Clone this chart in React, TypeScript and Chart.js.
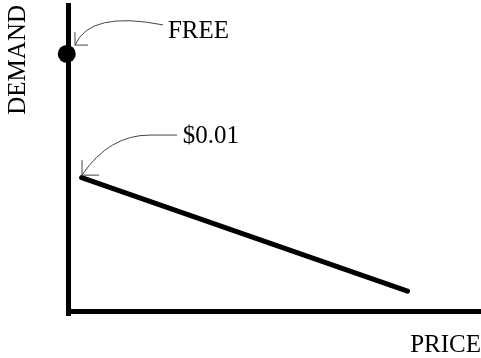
import React, { useEffect, useRef } from "react";
import { Chart, registerables } from "chart.js";

Chart.register(...registerables);

// ---- data (in abstract price / demand units, 0..100) ----
const xTitle = "PRICE";
const yTitle = "DEMAND";
const freePoint = [{ x: -0.3, y: 84 }];
const demandLine = [
  { x: 3.3, y: 43.6 },
  { x: 82.2, y: 6.5 },
];
const labelTexts = ["FREE", "$0.01"];
const labelAnchors = [
  { x: 24.2, y: 89.2 },
  { x: 27.8, y: 54.9 },
];
// arrow paths: start, bend, curve control, tip
const arrowPaths = [
  [
    { x: 23.0, y: 93.5 },
    { x: 23.0, y: 93.5 },
    { x: 5.33, y: 98.2 },
    { x: 1.69, y: 86.9 },
  ],
  [
    { x: 26.4, y: 57.5 },
    { x: 19.85, y: 57.5 },
    { x: 9.93, y: 57.5 },
    { x: 3.39, y: 44.4 },
  ],
];

// ---- styles ----
const FONT = '"Liberation Serif", "Times New Roman", serif';
const arrowHeads = [
  { up: 13, right: 13 },
  { up: 15, right: 17 },
];

const annotationPlugin = {
  id: "annotations",
  afterDatasetsDraw(chart: any) {
    const { ctx, scales } = chart;
    const xs = scales.x;
    const ys = scales.y;
    const px = (p: { x: number; y: number }) => [xs.getPixelForValue(p.x), ys.getPixelForValue(p.y)];
    ctx.save();
    ctx.strokeStyle = "#444";
    ctx.lineWidth = 1;
    arrowPaths.forEach((path, i) => {
      const [s, b, c, t] = path.map(px);
      ctx.beginPath();
      ctx.moveTo(s[0], s[1]);
      ctx.lineTo(b[0], b[1]);
      ctx.quadraticCurveTo(c[0], c[1], t[0], t[1]);
      ctx.stroke();
      const h = arrowHeads[i];
      ctx.beginPath();
      ctx.moveTo(t[0], t[1] - h.up);
      ctx.lineTo(t[0], t[1]);
      ctx.lineTo(t[0] + h.right, t[1]);
      ctx.stroke();
    });
    ctx.fillStyle = "#000";
    ctx.font = `25px ${FONT}`;
    ctx.textAlign = "left";
    ctx.textBaseline = "alphabetic";
    labelTexts.forEach((txt, i) => {
      const [x, y] = px(labelAnchors[i]);
      ctx.fillText(txt, x, y);
    });
    ctx.restore();
  },
};

export default function App() {
  const canvasRef = useRef<HTMLCanvasElement | null>(null);

  useEffect(() => {
    document.body.style.margin = "0";
    document.body.style.overflow = "hidden";
    const canvas = canvasRef.current;
    if (!canvas) return;
    const chart = new Chart(canvas, {
      type: "scatter",
      data: {
        datasets: [
          {
            type: "line",
            data: demandLine,
            borderColor: "#000",
            borderWidth: 5,
            borderCapStyle: "round",
            pointRadius: 0,
            showLine: true,
            clip: false,
          } as any,
          {
            data: freePoint,
            pointRadius: 9,
            backgroundColor: "#000",
            borderWidth: 0,
            clip: false,
          } as any,
        ],
      },
      options: {
        animation: false,
        responsive: true,
        maintainAspectRatio: false,
        layout: { autoPadding: false, padding: { top: 5, left: 0, right: 0, bottom: 0 } },
        plugins: { legend: { display: false }, tooltip: { enabled: false } },
        scales: {
          x: {
            type: "linear",
            position: "bottom",
            min: 0,
            max: 100,
            ticks: { display: false },
            grid: { drawOnChartArea: false, drawTicks: false },
            border: { color: "#000", width: 5 },
            title: {
              display: true,
              text: xTitle,
              align: "end",
              color: "#000",
              font: { family: FONT, size: 25, lineHeight: 1 },
              padding: { top: 22, bottom: 0 },
            },
          },
          y: {
            type: "linear",
            position: "left",
            min: 0,
            max: 100,
            ticks: { display: false },
            grid: { drawOnChartArea: false, drawTicks: false, lineWidth: 9 },
            border: { color: "#000", width: 5 },
            title: {
              display: true,
              text: yTitle,
              align: "end",
              color: "#000",
              font: { family: FONT, size: 25, lineHeight: 1 },
              padding: { top: 6, bottom: 37 },
            },
          },
        },
      } as any,
      plugins: [annotationPlugin],
    });
    return () => chart.destroy();
  }, []);

  return (
    <div style={{ position: "relative", width: 481, height: 358 }}>
      <canvas ref={canvasRef} />
    </div>
  );
}
